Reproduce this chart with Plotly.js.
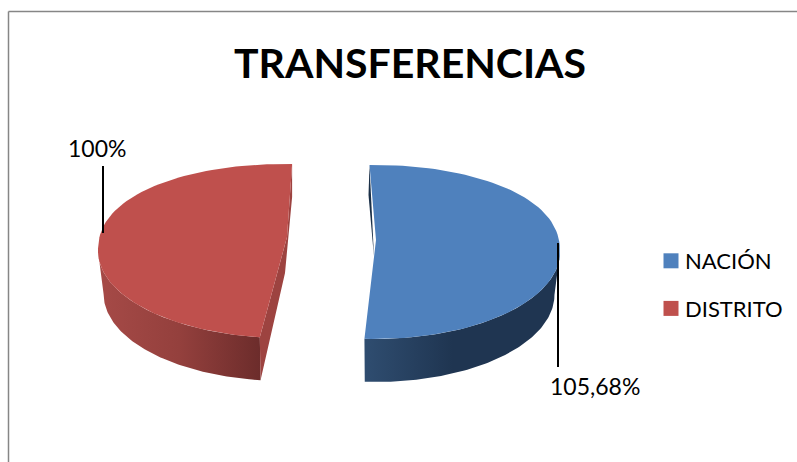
<!DOCTYPE html>
<html><head><meta charset="utf-8">
<script src="https://cdn.plot.ly/plotly-3.0.1.min.js"></script>
<style>html,body{margin:0;padding:0;background:#fff}#c{width:797px;height:462px}</style>
</head><body><div id="c"></div>
<script>
const categories = ["NACIÓN", "DISTRITO"];
const values = [105.68, 100];
const dataLabels = ["105,68%", "100%"];
const chartTitle = "TRANSFERENCIAS";

// Look of the exploded 3D pie (projection parameters, no data)
const look = [
  {cx:375, cy:252, rx:185, ry:87, rot:-1.7, apex:[374,257], bend:[376,240], backDrop:30, apexDrop:0, top:"#4f81bd",
   wall:[[0,"#2f4d70"],[0.45,"#1f3551"],[1,"#1f3551"]], cut:"#1b3048", leader:[558,243,558,367], label:[595,386]},
  {cx:284, cy:251, rx:186, ry:87, rot:2.5, apex:[287,237], bend:null, backDrop:33, apexDrop:36, top:"#bf504d",
   wall:[[0,"#a64a47"],[0.5,"#94403d"],[1,"#6c2c2b"]], cut:"#9d4340", leader:[103,166,103,233], label:[97,148]}
];
const depth = 43, bottomScale = 0.97, startAngle = 0, farBulge = 0.88;

const total = values.reduce((a,b)=>a+b,0);
const rad = d => d*Math.PI/180;
const pt = (l,a,scale=1,dy=0) => {
  const c = Math.cos(rad(a));
  const v = c > 0 ? Math.pow(c,farBulge) : c;   // perspective: the far rim is fuller
  return [l.cx + l.rx*scale*Math.sin(rad(a)), l.cy + dy - l.ry*v];
};
const arc = (l,a0,a1,scale,dy) => { const n=90, p=[]; for(let i=0;i<=n;i++) p.push(pt(l,a0+(a1-a0)*i/n,scale,dy)); return p; };
const poly = (pts,extra) => Object.assign({x:pts.map(p=>p[0]),y:pts.map(p=>p[1]),mode:"lines",fill:"toself",line:{width:0},showlegend:false,hoverinfo:"skip",type:"scatter"},extra);

const traces = [];
let cum = startAngle;
values.forEach((v,i)=>{
  const l = look[i], sweep = v/total*360;
  const a0 = cum + l.rot, a1 = cum + sweep + l.rot; cum += sweep;
  const cA = pt(l,a0), cB = pt(l,a1);
  // the near half of the rim
  const w0 = Math.max(a0,90), w1 = Math.min(a1,270);
  const wallPts = arc(l,w0,w1,1,0).concat(arc(l,w1,w0,bottomScale,depth));
  traces.push(poly(wallPts,{fillgradient:{type:"horizontal",colorscale:l.wall,
      start:Math.min(...wallPts.map(p=>p[0])),stop:Math.max(...wallPts.map(p=>p[0]))}}));
  // the cut face visible beside the wedge
  let cutPts;
  if(i===0) cutPts=[cA,[cA[0]-1,cA[1]+l.backDrop],[l.apex[0],l.apex[1]]];
  else { const b=pt(l,a0,bottomScale,depth);
    cutPts=[cB,[cB[0],cB[1]+l.backDrop],[l.apex[0]-2,l.apex[1]+l.apexDrop],b,cA,l.apex]; }
  traces.push(poly(cutPts,{fillcolor:l.cut}));
  // the top face
  const facePts = arc(l,a0,a1,1,0).concat([l.apex]);
  if(l.bend) facePts.push(l.bend);
  traces.push(poly(facePts,{fillcolor:l.top}));
});
// legend entries
categories.forEach((c,i)=>traces.push({type:"scatter",mode:"markers",name:c,legendgroup:c,x:[null],y:[null],
  marker:{symbol:"square",size:15,color:look[i].top},hoverinfo:"skip"}));

const shapes = look.map(l=>({type:"line",xref:"x",yref:"y",x0:l.leader[0],y0:l.leader[1],x1:l.leader[2],y1:l.leader[3],line:{color:"#000",width:2}}));
shapes.push({type:"line",xref:"x",yref:"y",x0:8.5,y0:11.5,x1:797,y1:11.5,line:{color:"#868686",width:1.5}});
shapes.push({type:"line",xref:"x",yref:"y",x0:8.5,y0:11.5,x1:8.5,y1:462,line:{color:"#868686",width:1.5}});

const annotations = [{text:"<b>"+chartTitle+"</b>",xref:"x",yref:"y",x:410,y:62,showarrow:false,font:{family:"Lato, Carlito, sans-serif",size:41,color:"#000"}}]
  .concat(dataLabels.map((t,i)=>({text:t,xref:"x",yref:"y",x:look[i].label[0],y:look[i].label[1],showarrow:false,font:{family:"Lato, sans-serif",size:23,color:"#000"}})));

const axis = r => ({range:r,visible:false,fixedrange:true});
Plotly.newPlot("c",traces,{
  width:797,height:462,margin:{l:0,r:0,t:0,b:0},paper_bgcolor:"#fff",plot_bgcolor:"#fff",
  xaxis:axis([0,797]),yaxis:axis([462,0]),shapes,annotations,
  legend:{x:651/797,y:1-240/462,xanchor:"left",yanchor:"top",font:{family:"Lato, sans-serif",size:22,color:"#000"},bgcolor:"rgba(0,0,0,0)",tracegroupgap:16}
},{displayModeBar:false,staticPlot:true}).then(gd=>{
  gd.querySelectorAll(".legendtext").forEach(t=>t.setAttribute("x",34));
});
</script></body></html>
